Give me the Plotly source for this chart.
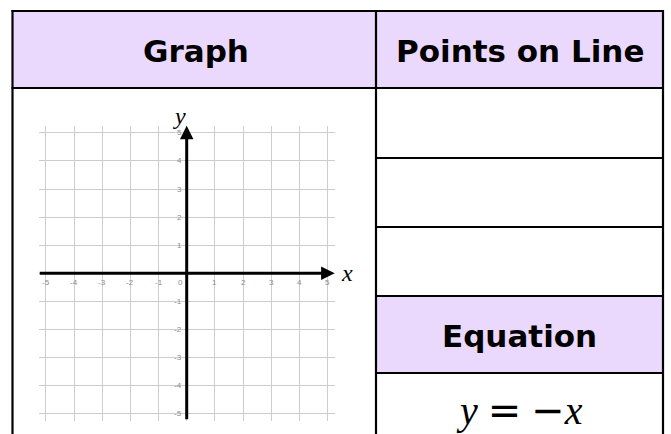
import plotly.graph_objects as go

# ---------------- data ----------------
grid_vals = [-5, -4, -3, -2, -1, 0, 1, 2, 3, 4, 5]
x_tick_labels = ["-5", "-4", "-3", "-2", "-1", "0", "1", "2", "3", "4", "5"]
y_tick_vals = [-5, -4, -3, -2, -1, 1, 2, 3, 4, 5]
y_tick_labels = ["-5", "-4", "-3", "-2", "-1", "1", "2", "3", "4", "5"]
axis_extent = 5.25
header_left = "Graph"
header_right = "Points on Line"
header_eq = "Equation"
equation_html = ("<i>y</i> <span style=\"font-family:'DejaVu Sans';font-style:normal\">=</span> "
                 "<span style=\"font-family:'DejaVu Sans';font-style:normal\">−</span><i>x</i>")

W, H = 671, 434
HEADER_FILL = "#EAD9FC"


def px(x):
    return x / W


def py(y):
    return 1 - y / H


fig = go.Figure()

# invisible trace to activate axes
fig.add_trace(go.Scatter(x=[-axis_extent, axis_extent], y=[-axis_extent, axis_extent],
                         mode="markers", marker=dict(opacity=0), hoverinfo="skip",
                         showlegend=False))

shapes = []
# header fills
shapes.append(dict(type="rect", xref="paper", yref="paper", x0=px(12.5), x1=px(663),
                   y0=py(88), y1=py(11), fillcolor=HEADER_FILL, line=dict(width=0), layer="below"))
shapes.append(dict(type="rect", xref="paper", yref="paper", x0=px(376), x1=px(663),
                   y0=py(373), y1=py(296), fillcolor=HEADER_FILL, line=dict(width=0), layer="below"))

border = dict(color="black", width=2.2)
shapes.append(dict(type="line", xref="paper", yref="paper", x0=px(12.5), x1=px(12.5), y0=py(10), y1=py(440), line=border))
shapes.append(dict(type="line", xref="paper", yref="paper", x0=px(663), x1=px(663), y0=py(10), y1=py(440), line=border))
shapes.append(dict(type="line", xref="paper", yref="paper", x0=px(376), x1=px(376), y0=py(10), y1=py(440), line=border))
shapes.append(dict(type="line", xref="paper", yref="paper", x0=px(11.5), x1=px(664), y0=py(11), y1=py(11), line=border))
shapes.append(dict(type="line", xref="paper", yref="paper", x0=px(11.5), x1=px(664), y0=py(88), y1=py(88), line=border))
for yy in [158, 227, 296, 373]:
    shapes.append(dict(type="line", xref="paper", yref="paper", x0=px(376), x1=px(664), y0=py(yy), y1=py(yy), line=border))

annotations = []
hdr_font = dict(family="DejaVu Sans", size=31, color="black")
annotations.append(dict(text="<b>%s</b>" % header_left, x=px(196), y=py(51), xref="paper", yref="paper",
                        showarrow=False, font=hdr_font, xanchor="center", yanchor="middle"))
annotations.append(dict(text="<b>%s</b>" % header_right, x=px(520), y=py(51), xref="paper", yref="paper",
                        showarrow=False, font=hdr_font, xanchor="center", yanchor="middle"))
annotations.append(dict(text="<b>%s</b>" % header_eq, x=px(519.5), y=py(335.5), xref="paper", yref="paper",
                        showarrow=False, font=hdr_font, xanchor="center", yanchor="middle"))
annotations.append(dict(text=equation_html, x=px(519), y=py(410), xref="paper", yref="paper",
                        showarrow=False, font=dict(family="Liberation Serif", size=40, color="black"),
                        xanchor="center", yanchor="middle"))

# axes arrows
annotations.append(dict(x=axis_extent, y=0, ax=-axis_extent - 0.02, ay=0, xref="x", yref="y",
                        axref="x", ayref="y", text="", showarrow=True, arrowhead=2,
                        arrowsize=0.9, arrowwidth=3, arrowcolor="black", standoff=0))
annotations.append(dict(x=0, y=axis_extent, ax=0, ay=-axis_extent, xref="x", yref="y",
                        axref="x", ayref="y", text="", showarrow=True, arrowhead=2,
                        arrowsize=0.9, arrowwidth=3, arrowcolor="black", standoff=0))
# axis names
annotations.append(dict(text="<i>x</i>", x=axis_extent, y=0, xref="x", yref="y", xshift=4,
                        xanchor="left", yanchor="middle", showarrow=False,
                        font=dict(family="Liberation Serif", size=24, color="black")))
annotations.append(dict(text="<i>y</i>", x=0, y=axis_extent, xref="x", yref="y", xshift=-7, yshift=-5,
                        xanchor="center", yanchor="bottom", showarrow=False,
                        font=dict(family="Liberation Serif", size=24, color="black")))

tick_font = dict(family="Liberation Sans", size=8, color="#8c8c8c")
for v, lab in zip(grid_vals, x_tick_labels):
    annotations.append(dict(text=lab, x=v, y=0, xref="x", yref="y", showarrow=False,
                            yshift=-9, xshift=(-6 if v == 0 else 0), font=tick_font,
                            xanchor="center", yanchor="middle"))
for v, lab in zip(y_tick_vals, y_tick_labels):
    annotations.append(dict(text=lab, x=0, y=v, xref="x", yref="y", showarrow=False,
                            xshift=-3, font=tick_font, xanchor="right", yanchor="middle"))

x_dom = [px(38.8), px(334.6)]
y_dom = [py(420.8), py(125.8)]

fig.update_layout(
    width=W, height=H,
    margin=dict(l=0, r=0, t=0, b=0),
    paper_bgcolor="white", plot_bgcolor="white",
    showlegend=False,
    shapes=shapes,
    annotations=annotations,
    xaxis=dict(domain=x_dom, range=[-axis_extent, axis_extent], tickvals=grid_vals,
               showgrid=True, gridcolor="#cdcdcd", gridwidth=1.3, zeroline=False,
               showticklabels=False, ticks="", showline=False, fixedrange=True),
    yaxis=dict(domain=y_dom, range=[-axis_extent, axis_extent], tickvals=grid_vals,
               showgrid=True, gridcolor="#cdcdcd", gridwidth=1.3, zeroline=False,
               showticklabels=False, ticks="", showline=False, fixedrange=True),
)

fig.write_html("out.html", include_plotlyjs=True, config=dict(displayModeBar=False),
               post_script="document.body.style.margin='0px';document.body.style.overflow='hidden';")
